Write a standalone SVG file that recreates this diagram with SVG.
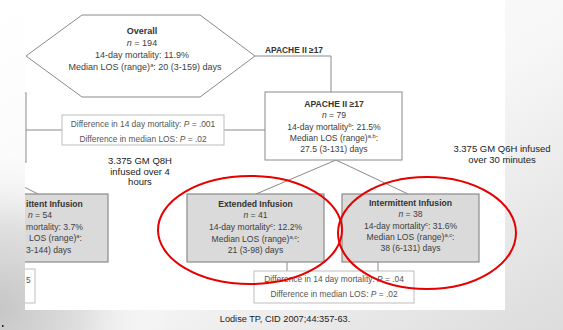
<svg xmlns="http://www.w3.org/2000/svg" width="563" height="330" viewBox="0 0 563 330">
<defs>
<linearGradient id="bg" x1="0" y1="0" x2="1" y2="1">
<stop offset="0" stop-color="#ffffff"/>
<stop offset="0.55" stop-color="#f7f7f7"/>
<stop offset="1" stop-color="#dcdcdc"/>
</linearGradient>
<radialGradient id="bl" cx="0" cy="310" r="170" gradientUnits="userSpaceOnUse">
<stop offset="0" stop-color="#c6c6c6"/>
<stop offset="0.5" stop-color="#e0e0e0"/>
<stop offset="1" stop-color="#ffffff" stop-opacity="0"/>
</radialGradient>
<clipPath id="img"><rect x="25" y="0" width="480" height="310"/></clipPath>
<style>
.t{font-family:"Liberation Sans",Arial,sans-serif;fill:#404040;text-anchor:middle;font-size:8.6px}
.l{text-anchor:start}
.h{font-size:9px}
.b{font-weight:bold;fill:#333}
.d{font-size:8.4px;fill:#555}
.note{font-family:"Liberation Sans",Arial,sans-serif;fill:#222;text-anchor:middle;font-size:9.5px}
.box{fill:#ffffff;stroke:#8a8a8a;stroke-width:1}
.gbox{fill:#dadada;stroke:#8a8a8a;stroke-width:1.2}
.dbox{fill:#ffffff;stroke:#bdbdbd;stroke-width:1}
.ln{fill:none;stroke:#8a8a8a;stroke-width:1}
.red{fill:none;stroke:#e60000;stroke-width:2}
.sup{font-size:5.8px}
</style>
</defs>
<rect x="0" y="0" width="563" height="330" fill="url(#bg)"/>
<rect x="0" y="150" width="180" height="180" fill="url(#bl)"/>
<rect x="25" y="0" width="480" height="310" fill="#ffffff"/>
<rect x="2" y="325" width="1.5" height="2" fill="#222"/>

<g clip-path="url(#img)">
<g id="connectors">
<polyline class="ln" points="255,56 331,56 331,92"/>
<line class="ln" x1="26" y1="130" x2="62" y2="130"/>
<line class="ln" x1="224" y1="130" x2="265" y2="130"/>
<line class="ln" x1="336" y1="160" x2="256" y2="194"/>
<line class="ln" x1="336" y1="160" x2="408" y2="194"/>
<line class="ln" x1="287" y1="262" x2="287" y2="271"/>
<line class="ln" x1="378" y1="262" x2="378" y2="271"/>
<line class="ln" x1="20" y1="185" x2="38" y2="194"/>
</g>

<g id="overall">
<polygon class="box" points="26,56 82,15 200,15 255,56 200,97 82,97"/>
<text class="t h b" x="142" y="34">Overall</text>
<text class="t h" x="142" y="46"><tspan font-style="italic">n</tspan> = 194</text>
<text class="t h" x="142" y="58">14-day mortality: 11.9%</text>
<text class="t h" x="145" y="70">Median LOS (range)<tspan class="sup" dy="-3">a</tspan><tspan dy="3">: 20 (3-159) days</tspan></text>
</g>

<g id="apache-low">
<rect class="box" x="-120" y="93" width="146" height="69"/>
</g>

<g id="diff-top">
<rect class="dbox" x="62" y="115" width="162" height="30"/>
<text class="t d" x="143" y="127">Difference in 14 day mortality: <tspan font-style="italic">P</tspan> = .001</text>
<text class="t d" x="143" y="142">Difference in median LOS: <tspan font-style="italic">P</tspan> = .02</text>
</g>

<g id="apache-high">
<rect class="box" x="265" y="92" width="137" height="68"/>
<text class="t b" x="334" y="107">APACHE II ≥17</text>
<text class="t" x="334" y="118"><tspan font-style="italic">n</tspan> = 79</text>
<text class="t" x="334" y="130">14-day mortality<tspan class="sup" dy="-3">b</tspan><tspan dy="3">: 21.5%</tspan></text>
<text class="t" x="334" y="141">Median LOS (range)<tspan class="sup" dy="-3">a,b</tspan><tspan dy="3">:</tspan></text>
<text class="t" x="334" y="152">27.5 (3-131) days</text>
</g>

<g id="low-intermittent">
<rect class="gbox" x="-29" y="194" width="137" height="68"/>
<text class="t b l" x="26" y="207">ittent Infusion</text>
<text class="t" x="40" y="218"><tspan font-style="italic">n</tspan> = 54</text>
<text class="t l" x="26" y="230">mortality: 3.7%</text>
<text class="t l" x="29" y="241">LOS (range)<tspan class="sup" dy="-3">a</tspan><tspan dy="3">:</tspan></text>
<text class="t l" x="26" y="253">3-144) days</text>
</g>

<g id="diff-low">
<rect class="dbox" x="-126" y="269" width="161" height="34"/>
<text class="t d l" x="26" y="283">5</text>
</g>

<g id="extended">
<rect class="gbox" x="187" y="194" width="137" height="68"/>
<text class="t b" x="255.5" y="207">Extended Infusion</text>
<text class="t" x="255.5" y="218"><tspan font-style="italic">n</tspan> = 41</text>
<text class="t" x="255.5" y="230">14-day mortality<tspan class="sup" dy="-3">c</tspan><tspan dy="3">: 12.2%</tspan></text>
<text class="t" x="255.5" y="242">Median LOS (range)<tspan class="sup" dy="-3">a,c</tspan><tspan dy="3">:</tspan></text>
<text class="t" x="255.5" y="253">21 (3-98) days</text>
</g>

<g id="intermittent">
<rect class="gbox" x="342" y="194" width="137" height="68"/>
<text class="t b" x="410.5" y="206">Intermittent Infusion</text>
<text class="t" x="410.5" y="217"><tspan font-style="italic">n</tspan> = 38</text>
<text class="t" x="410.5" y="229">14-day mortality<tspan class="sup" dy="-3">c</tspan><tspan dy="3">: 31.6%</tspan></text>
<text class="t" x="410.5" y="240">Median LOS (range)<tspan class="sup" dy="-3">a,c</tspan><tspan dy="3">:</tspan></text>
<text class="t" x="410.5" y="251">38 (6-131) days</text>
</g>

<g id="diff-bottom">
<rect class="dbox" x="254" y="271" width="160" height="32"/>
<text class="t d" x="334" y="282">Difference in 14 day mortality: <tspan font-style="italic">P</tspan> = .04</text>
<text class="t d" x="334" y="297">Difference in median LOS: <tspan font-style="italic">P</tspan> = .02</text>
</g>
</g>

<g id="labels">
<text class="t b" x="294" y="53" style="font-size:8.4px">APACHE II ≥17</text>
</g>

<g id="notes">
<text class="note" x="140" y="164">3.375 GM Q8H</text>
<text class="note" x="140" y="174.5">infused over 4</text>
<text class="note" x="140" y="185">hours</text>
<text class="note" x="502" y="152">3.375 GM Q6H infused</text>
<text class="note" x="502" y="163">over 30 minutes</text>
<text class="note" x="285" y="322" style="font-size:9.2px">Lodise TP, CID 2007;44:357-63.</text>
</g>

<g id="highlights">
<ellipse class="red" cx="250" cy="230" rx="92" ry="54"/>
<ellipse class="red" cx="427" cy="233" rx="89" ry="56"/>
</g>
</svg>
